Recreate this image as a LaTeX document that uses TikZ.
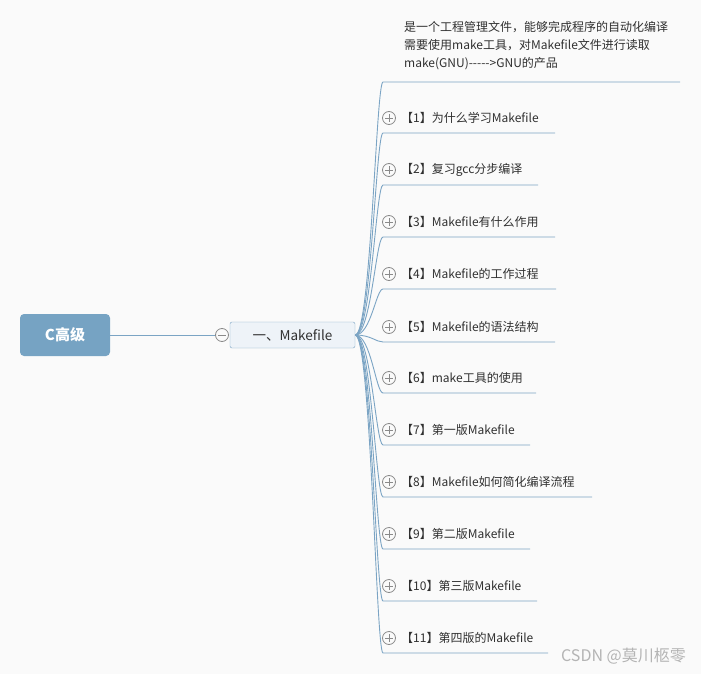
\documentclass[tikz,border=0pt]{standalone}
\usepackage{fontspec}
\setmainfont{Noto Sans CJK SC}
\definecolor{bgc}{HTML}{FAFAFA}
\definecolor{lnc}{HTML}{7BA4C4}
\definecolor{rootc}{HTML}{76A3C3}
\definecolor{mainc}{HTML}{EEF3F8}
\definecolor{txtc}{HTML}{303030}
\definecolor{symc}{HTML}{8A8A8A}
\definecolor{wmc}{HTML}{B4B4B4}
\begin{document}
\begin{tikzpicture}[x=1pt,y=-1pt,
  root/.style={fill=rootc,rounded corners=4pt,minimum width=90pt,minimum height=42pt,inner sep=0pt,text=white,font=\fontsize{15}{18}\selectfont\bfseries},
  mainbox/.style={draw=lnc,fill=mainc,rounded corners=2pt,minimum width=125pt,minimum height=26pt,inner sep=0pt,text=txtc,font=\fontsize{13.5}{16}\selectfont},
  item/.style={anchor=west,inner sep=0pt,text=txtc,font=\fontsize{12}{14}\selectfont},
  conn/.style={draw=lnc,line width=0.9pt},
  sym/.style={circle,draw=symc,line width=0.8pt,minimum size=13pt,inner sep=0pt},
  symline/.style={draw=symc,line width=0.8pt}
]
\useasboundingbox (0,0) rectangle (701,674);
\fill[bgc] (0,0) rectangle (701,674);

\node[root] (root) at (65,335) {C高级};
\node[mainbox] (main) at (292.5,335) {一、Makefile};
\node[sym] (minus) at (222,335) {};
\draw[symline] ([xshift=-4pt]minus.center) -- ([xshift=4pt]minus.center);
\draw[conn] (root.east) -- (minus.west);

% description block
\node[anchor=north west,inner sep=0pt,align=left,text=txtc,font=\fontsize{12}{18}\selectfont] (desc) at (404,21)
  {是一个工程管理文件，能够完成程序的自动化编译\\需要使用make工具，对Makefile文件进行读取\\make(GNU){-}{-}{-}{-}{-}>GNU的产品};
\coordinate (s0) at (383,82);
\coordinate (e0) at (680,82);
\draw[conn] (main.east) .. controls (371,335) and (376,82) .. (s0) -- (e0);

\foreach \i/\y/\ex/\t in {
  1/133/555/【1】为什么学习Makefile,
  2/185/538/【2】复习gcc分步编译,
  3/237/555/【3】Makefile有什么作用,
  4/289/556/【4】Makefile的工作过程,
  5/342/555/【5】Makefile的语法结构,
  6/393/536/【6】make工具的使用,
  7/445/530/【7】第一版Makefile,
  8/497/592/【8】Makefile如何简化编译流程,
  9/549/530/【9】第二版Makefile,
  10/601/537/【10】第三版Makefile,
  11/653/548/【11】第四版的Makefile}{
  \coordinate (s\i) at (383,\y);
  \coordinate (e\i) at (\ex,\y);
  \draw[conn] (main.east) .. controls (371,335) and (376,\y) .. (s\i) -- (e\i);
  \node[sym] (p\i) at (389,\y-15) {};
  \draw[symline] ([xshift=-4pt]p\i.center) -- ([xshift=4pt]p\i.center);
  \draw[symline] ([yshift=-4pt]p\i.center) -- ([yshift=4pt]p\i.center);
  \node[item] (t\i) at (401,\y-15) {\t};
}

\node[anchor=east,inner sep=0pt,text=wmc,font=\fontsize{16}{18}\selectfont] (wm) at (686,656) {CSDN @莫川柩零};
\end{tikzpicture}
\end{document}
